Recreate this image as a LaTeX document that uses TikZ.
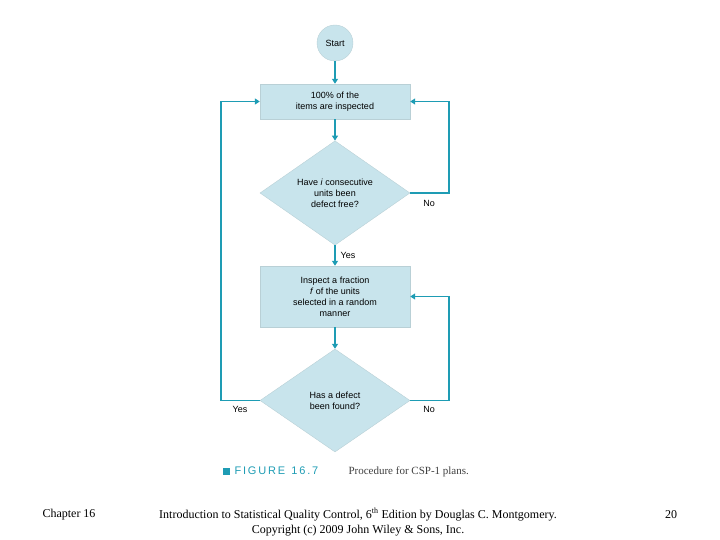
\documentclass[tikz,border=0pt]{standalone}
\usepackage{fontspec}
\setmainfont{Liberation Serif}
\newfontfamily\mysans{Liberation Sans}
\usetikzlibrary{shapes.geometric,arrows.meta}
\definecolor{fl}{HTML}{C8E4EC}
\definecolor{ln}{HTML}{1E9CB4}
\begin{document}
\begin{tikzpicture}[x=1pt,y=-1pt,
 box/.style={draw=fl!80!gray,fill=fl,minimum width=150pt,align=center,font=\mysans\fontsize{9}{11}\selectfont,inner sep=0pt},
 dia/.style={diamond,draw=fl!80!gray,fill=fl,minimum width=150pt,minimum height=101pt,inner sep=0pt,align=center,font=\mysans\fontsize{9}{11}\selectfont},
 ar/.style={ln,line width=1.6pt,-{Triangle[length=5pt,width=6pt]}},
 lab/.style={font=\mysans\fontsize{9}{10}\selectfont}]
\useasboundingbox (0,0) rectangle (720,540);
\node[circle,draw=fl!80!gray,fill=fl,minimum size=36pt,inner sep=0pt,font=\mysans\fontsize{9}{10}\selectfont] (st) at (335,43) {Start};
\node[box,minimum height=35pt] (b1) at (335,101.5) {100\% of the\\items are inspected};
\node[dia] (d1) at (335,193) {Have \textit{i} consecutive\\units been\\defect free?};
\node[box,minimum height=61pt] (b2) at (335,296.5) {Inspect a fraction\\\textit{f} of the units\\selected in a random\\manner};
\node[dia,minimum height=103pt] (d2) at (335,400.5) {Has a defect\\been found?};
\draw[ar] (st) -- (b1);
\draw[ar] (b1) -- (d1);
\draw[ar] (d1) -- (b2);
\draw[ar] (b2) -- (d2);
\draw[ar] (d2.west) -- (221,400.5) |- (b1.west);
\draw[ar] (d1.east) -- (449,193) |- (b1.east);
\draw[ar] (d2.east) -- (449,400.5) |- (b2.east);
\node[lab] (n1) at (429,203) {No};
\node[lab] (y1) at (348,255) {Yes};
\node[lab] (y2) at (240,409) {Yes};
\node[lab] (n2) at (429,409) {No};
\node[fill=ln,minimum size=7pt,inner sep=0pt] (sq) at (226,471) {};
\node[anchor=west,text=ln,font=\mysans\fontsize{11}{12}\selectfont] (fg) at (231,471) {F\,I\,G\,U\,R\,E\ \ 1\,6\,.\,7};
\node[anchor=west,font=\fontsize{11}{12}\selectfont,text=black!75] (cp) at (345,472) {Procedure for CSP-1 plans.};
\node[font=\fontsize{12}{14}\selectfont] (ch) at (69,515) {Chapter 16};
\node[align=center,font=\fontsize{12}{15}\selectfont] (ti) at (358,522) {Introduction to Statistical Quality Control, 6\textsuperscript{th} Edition by Douglas C. Montgomery.\\Copyright (c) 2009 John Wiley \& Sons, Inc.};
\node[font=\fontsize{12}{14}\selectfont] (pg) at (671,515) {20};
\end{tikzpicture}
\end{document}
